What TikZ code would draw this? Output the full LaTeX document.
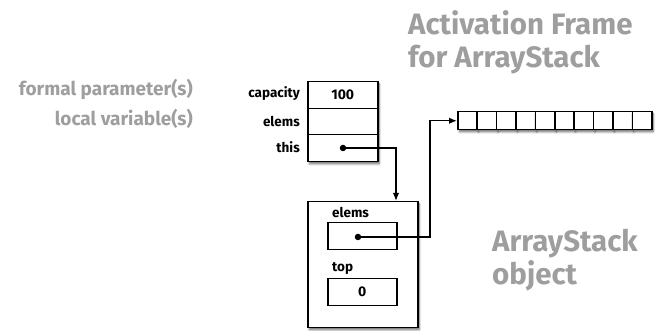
\documentclass[tikz,border=0pt]{standalone}
\usepackage{fontspec}
\setmainfont{Fira Sans}
\usetikzlibrary{arrows.meta,shadows.blur}
\definecolor{notegray}{RGB}{158,158,158}
\tikzset{
  box/.style={draw, line width=1.5pt, fill=white, inner sep=0pt, anchor=north west},
  shadowed/.style={blur shadow={shadow xshift=1.5pt, shadow yshift=-2.2pt, shadow opacity=55, shadow blur steps=6, shadow blur radius=2pt}},
  fieldlabel/.style={font=\bfseries\fontsize{13.5}{14}\selectfont, inner sep=0pt},
  value/.style={font=\bfseries\fontsize{14}{14}\selectfont},
  note/.style={text=notegray, font=\bfseries\fontsize{19}{20}\selectfont, inner sep=0pt},
  title/.style={text=notegray, font=\bfseries\fontsize{29.5}{33}\selectfont, inner sep=0pt, align=left},
  dot/.style={circle, fill=black, minimum size=6.5pt, inner sep=0pt},
  link/.style={line width=1.5pt},
  tip/.style={-{Latex[length=8pt,width=6.5pt]}},
}
\begin{document}
\begin{tikzpicture}[x=1pt,y=-1pt]
\useasboundingbox (0,0) rectangle (665,331);

% side notes
\node[note, anchor=base east] (fp) at (193,96) {formal parameter(s)};
\node[note, anchor=base east] (lv) at (193,126) {local variable(s)};
\node[title, anchor=north west] (ttl) at (408,10) {Activation Frame\\for ArrayStack};
\node[title, anchor=north west] (obl) at (492,229) {ArrayStack\\object};

% activation frame
\node[box, shadowed, minimum width=70pt, minimum height=80pt] (frame) at (307,81) {};
\node[box, minimum width=70pt, minimum height=27pt, value] (cap) at (307,81) {100};
\node[box, minimum width=70pt, minimum height=26pt] (elf) at (307,108) {};
\node[box, minimum width=70pt, minimum height=27pt] (thf) at (307,134) {};
\node[fieldlabel, anchor=east] (capl) at (300,94) {capacity};
\node[fieldlabel, anchor=east] (elfl) at (300,121) {elems};
\node[fieldlabel, anchor=east] (thfl) at (300,147) {this};
\node[dot] (tdot) at (343,148) {};

% array
\foreach \i in {1,...,10}{
  \node[box, shadowed, minimum width=19.4pt, minimum height=18pt] (a\i) at ({457+(\i-1)*19.4},111) {};
}

% ArrayStack object
\node[box, shadowed, minimum width=110pt, minimum height=126pt] (obj) at (307,201) {};
\node[fieldlabel, anchor=base west] (oel) at (332,218) {elems};
\node[box, minimum width=69pt, minimum height=27pt] (oeb) at (327,222) {};
\node[dot] (edot) at (358,237) {};
\node[fieldlabel, anchor=base west] (otl) at (332,272) {top};
\node[box, minimum width=69pt, minimum height=27pt, value] (otb) at (327,278) {0};

% references
\coordinate (objin) at (396,201);
\draw[link, tip] (tdot.center) -| (objin);
\draw[link, tip] (edot.center) -- (430,237) |- (a1.west);
\end{tikzpicture}
\end{document}
